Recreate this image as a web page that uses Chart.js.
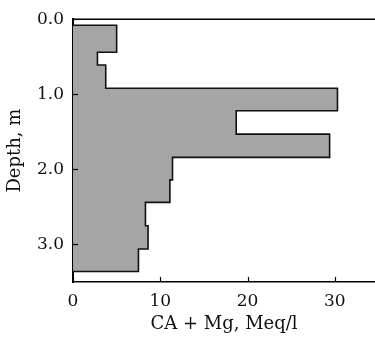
<!DOCTYPE html>
<html>
<head>
<meta charset="utf-8">
<script src="https://cdn.jsdelivr.net/npm/chart.js@4"></script>
<style>
  html, body { margin: 0; padding: 0; background: #fff; }
  #wrap { width: 375px; height: 339px; }
</style>
</head>
<body>
<div id="wrap"><canvas id="profileChart" width="375" height="339"></canvas></div>
<script>
// layer boundaries (depth, m) and CA + Mg values (Meq/l) of each layer
const depthBounds = [0.08, 0.44, 0.61, 0.92, 1.22, 1.53, 1.84, 2.14, 2.44, 2.75, 3.06, 3.36];
const caMgValues = [5.0, 2.8, 3.75, 30.3, 18.7, 29.4, 11.4, 11.1, 8.3, 8.6, 7.5];
const xTicks = [0, 10, 20, 30];
const yTicks = [0, 1, 2, 3];

// step outline of the profile
const points = [{x: 0, y: depthBounds[0]}];
caMgValues.forEach((v, i) => {
  points.push({x: v, y: depthBounds[i]});
  points.push({x: v, y: depthBounds[i + 1]});
});
points.push({x: 0, y: depthBounds[depthBounds.length - 1]});

const font = {family: 'DejaVu Serif', size: 17};
const titleFont = {family: 'DejaVu Serif', size: 18};

// inward tick marks and the top frame line
const frame = {
  id: 'frame',
  afterDraw(chart) {
    const ctx = chart.ctx;
    const a = chart.chartArea;
    const xs = chart.scales.x, ys = chart.scales.y;
    ctx.save();
    ctx.strokeStyle = '#000';
    ctx.lineWidth = 1.2;
    xTicks.forEach(v => {
      const px = Math.round(xs.getPixelForValue(v)) + 0.5;
      ctx.beginPath(); ctx.moveTo(px, a.bottom); ctx.lineTo(px, a.bottom - 5); ctx.stroke();
    });
    yTicks.forEach(v => {
      const py = Math.round(ys.getPixelForValue(v)) + 0.5;
      ctx.beginPath(); ctx.moveTo(a.left, py); ctx.lineTo(a.left + 5, py); ctx.stroke();
    });
    ctx.lineWidth = 1.6;
    ctx.beginPath(); ctx.moveTo(a.left, a.top); ctx.lineTo(a.right, a.top); ctx.stroke();
    ctx.restore();
  }
};

new Chart(document.getElementById('profileChart'), {
  type: 'scatter',
  data: {
    datasets: [{
      data: points,
      showLine: true,
      fill: 'shape',
      backgroundColor: '#a5a5a5',
      borderColor: '#111',
      borderWidth: 1.6,
      pointRadius: 0,
      tension: 0
    }]
  },
  options: {
    responsive: false,
    animation: false,
    layout: {padding: {top: 16, right: 0, left: 0, bottom: 0}},
    plugins: {legend: {display: false}, tooltip: {enabled: false}},
    scales: {
      x: {
        type: 'linear',
        min: 0,
        max: 34.6,
        afterBuildTicks: s => { s.ticks = xTicks.map(v => ({value: v})); },
        afterFit: s => { s.height = 57; },
        grid: {display: false, drawTicks: false},
        border: {display: true, color: '#000', width: 1.6},
        ticks: {color: '#111', font: font, padding: 9, maxRotation: 0},
        title: {display: true, text: 'CA + Mg, Meq/l', color: '#111', font: titleFont, padding: {top: 0, bottom: 4}}
      },
      y: {
        type: 'linear',
        reverse: true,
        min: 0,
        max: 3.5,
        afterBuildTicks: s => { s.ticks = yTicks.map(v => ({value: v})); },
        afterFit: s => { s.width = 73; },
        grid: {display: false, drawTicks: false},
        border: {display: true, color: '#000', width: 2},
        ticks: {color: '#111', font: font, padding: 9, callback: v => v.toFixed(1)},
        title: {display: true, text: 'Depth, m', color: '#111', font: titleFont, padding: {top: 5, bottom: 0}}
      }
    }
  },
  plugins: [frame]
});
</script>
</body>
</html>
